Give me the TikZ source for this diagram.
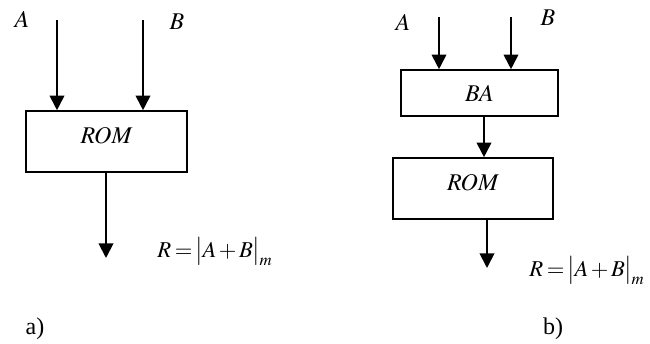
\documentclass[tikz,border=0pt]{standalone}
\usepackage{mathptmx}
\usepackage{fontspec}
\setmainfont{Liberation Serif}
\usetikzlibrary{arrows.meta}
\tikzset{
  blk/.style={draw, line width=1.2pt, rectangle, inner sep=0pt},
  sig/.style={line width=1.4pt, -{Triangle[length=11pt,width=11pt]}}
}
\newcommand{\modsum}{\fontsize{17}{20}\selectfont$R\mkern3mu{=}\mkern2mu\big|A\mkern2mu{+}\mkern2mu B\big|_{\mkern-1mu m}$}
\begin{document}
\begin{tikzpicture}[x=0.75pt, y=-0.75pt, font=\fontsize{18}{21}\selectfont]
%\draw[help lines, color=gray!30, dashed] (0,0) grid[step=50] (650,343);
\useasboundingbox (0,0) rectangle (650,343);
% a)
\node (lA) at (22,19) {$A$};
\node (lB) at (177,22) {$B$};
\node[blk, minimum width=120.75pt, minimum height=45.75pt, text depth=9pt] (rom1) at (106.5,141.5) {$ROM$};
\coordinate (ina1) at (57,20);
\coordinate (inb1) at (143,20);
\coordinate (out1) at (106,258);
\draw[sig] (ina1) -- (ina1 |- rom1.north);
\draw[sig] (inb1) -- (inb1 |- rom1.north);
\draw[sig] (rom1.south -| out1) -- (out1);
\node[anchor=base west, inner sep=0pt] (eq1) at (157,257) {\modsum};
\node (capa) at (35,329) {a)};
% b)
\node (rA) at (403,22) {$A$};
\node (rB) at (548,18) {$B$};
\node[blk, minimum width=117.75pt, minimum height=34.5pt] (ba) at (479.5,93) {$BA$};
\node[blk, minimum width=120pt, minimum height=45.75pt, text depth=9pt] (rom2) at (473,188.5) {$ROM$};
\coordinate (ina2) at (439,17);
\coordinate (inb2) at (511,17);
\coordinate (mid2) at (484,0);
\coordinate (out2) at (487,268);
\draw[sig] (ina2) -- (ina2 |- ba.north);
\draw[sig] (inb2) -- (inb2 |- ba.north);
\draw[sig] (ba.south -| mid2) -- (rom2.north -| mid2);
\draw[sig] (rom2.south -| out2) -- (out2);
\node[anchor=base west, inner sep=0pt] (eq2) at (529,276) {\modsum};
\node (capb) at (553,329) {b)};
\end{tikzpicture}
\end{document}
